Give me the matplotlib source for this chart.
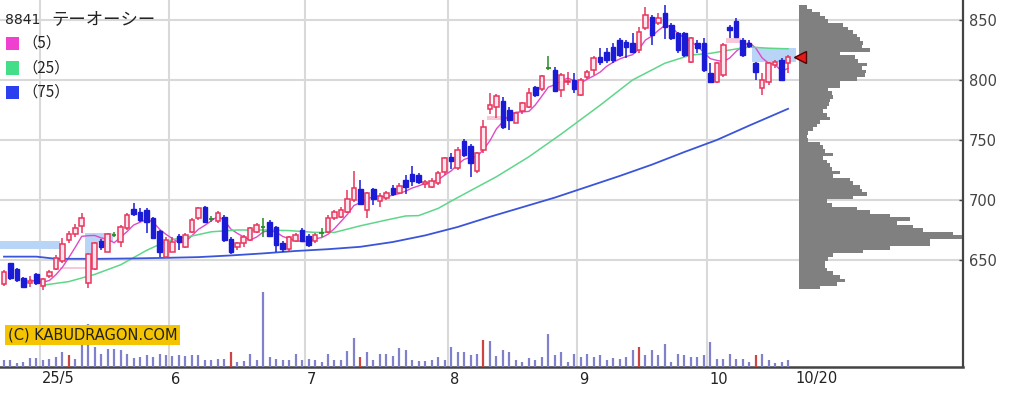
import numpy as np
import pandas as pd
import matplotlib
matplotlib.use("Agg")
import matplotlib.pyplot as plt
from matplotlib.patches import Rectangle
from matplotlib.transforms import blended_transform_factory

# 日足 (4/22 - 10/20)
opens = [629.7, 647.2, 642.5, 634.7, 630.6, 638.0, 628.6, 637.0, 642.5, 649.2,
         666.7, 671.4, 678.6, 630.6, 642.5, 665.8, 656.9, 670.8, 665.3, 676.4,
         692.5, 690.3, 691.7, 684.7, 674.2, 652.8, 656.9, 670.3, 661.1, 673.3,
         684.7, 693.9, 684.2, 682.8, 686.1, 667.2, 660.6, 663.9, 666.7, 673.6,
         677.8, 681.9, 677.2, 664.4, 658.9, 666.1, 675.0, 670.0, 666.1, 672.8,
         673.6, 684.7, 686.1, 690.3, 700.0, 708.9, 691.7, 708.9, 699.4, 701.4,
         710.0, 706.1, 717.0, 722.0, 720.5, 713.3, 711.0, 713.9, 723.0, 736.0,
         726.4, 749.0, 745.0, 724.0, 741.7, 775.6, 777.8, 782.5, 775.3, 764.4,
         774.5, 777.8, 794.0, 792.5, 809.7, 808.3, 791.7, 798.0, 800.0, 787.5,
         802.8, 808.0, 819.4, 823.6, 827.8, 833.3, 831.9, 831.1, 825.0, 843.1,
         852.8, 847.2, 855.6, 845.8, 838.9, 838.9, 815.3, 831.1, 830.6, 805.6,
         798.6, 804.2, 844.4, 849.4, 833.3, 831.1, 813.9, 793.1, 798.6, 812.5,
         816.7, 813.9]
highs = [641.7, 647.8, 643.6, 636.1, 636.7, 638.9, 635.3, 641.7, 654.2, 668.1,
         674.2, 679.7, 688.9, 655.6, 665.3, 667.2, 672.2, 673.0, 679.2, 688.9,
         697.2, 693.1, 693.1, 686.1, 675.0, 669.4, 669.4, 671.4, 672.2, 684.7,
         694.4, 695.0, 686.7, 691.1, 687.5, 668.9, 665.3, 670.8, 677.8, 680.6,
         684.7, 683.3, 678.3, 666.1, 670.0, 672.2, 676.4, 671.7, 672.2, 676.4,
         687.5, 691.7, 693.9, 708.3, 724.4, 716.7, 707.0, 709.7, 705.6, 707.8,
         712.5, 713.9, 721.0, 728.3, 722.5, 716.5, 718.0, 724.4, 736.1, 739.0,
         744.4, 750.6, 746.4, 740.3, 766.7, 788.9, 788.0, 785.5, 777.5, 772.8,
         782.0, 793.0, 795.0, 804.2, 820.0, 811.0, 805.6, 807.0, 805.6, 801.4,
         808.3, 820.0, 826.4, 826.4, 830.6, 834.7, 833.3, 838.9, 844.4, 861.1,
         854.2, 855.6, 862.5, 847.2, 840.3, 840.3, 836.1, 833.3, 834.7, 813.9,
         815.3, 830.6, 845.8, 851.4, 834.7, 833.3, 815.3, 805.6, 815.3, 816.7,
         818.1, 820.8]
lows = [628.6, 633.3, 631.4, 627.0, 627.8, 629.2, 625.0, 634.7, 641.7, 647.2,
        663.9, 669.4, 672.2, 626.4, 641.7, 658.3, 656.4, 669.4, 661.1, 675.0,
        686.9, 682.0, 672.2, 668.1, 652.8, 651.4, 656.4, 658.3, 659.7, 672.2,
        683.3, 680.6, 681.9, 681.1, 665.3, 655.0, 658.3, 661.1, 666.1, 672.2,
        669.4, 668.9, 657.0, 657.0, 657.8, 665.0, 665.0, 661.1, 664.4, 668.9,
        672.2, 683.3, 684.7, 689.4, 698.6, 695.8, 684.7, 695.8, 694.4, 700.0,
        703.6, 705.0, 705.0, 712.0, 713.5, 710.0, 710.0, 712.5, 720.8, 726.0,
        725.0, 736.1, 719.5, 722.2, 739.0, 772.0, 768.0, 759.0, 758.3, 763.9,
        772.0, 776.4, 786.1, 791.0, 808.5, 790.0, 786.1, 796.0, 789.4, 786.4,
        801.0, 804.0, 812.5, 813.9, 813.9, 819.4, 818.1, 822.2, 822.2, 841.7,
        829.2, 845.8, 833.9, 833.3, 822.2, 819.4, 813.9, 822.2, 806.9, 797.2,
        797.8, 802.8, 834.7, 834.7, 819.4, 826.4, 800.0, 787.5, 795.8, 809.7,
        799.4, 805.6]
closes = [640.3, 634.7, 633.3, 627.8, 632.5, 630.6, 633.9, 639.7, 651.9, 663.1,
          671.4, 676.9, 685.3, 654.7, 663.9, 661.1, 671.4, 670.8, 677.8, 687.5,
          688.1, 683.3, 681.9, 668.1, 656.9, 666.7, 665.3, 665.3, 670.8, 683.3,
          693.1, 681.9, 684.2, 689.4, 666.7, 656.9, 663.9, 669.4, 676.4, 679.2,
          677.8, 670.0, 662.5, 658.9, 668.9, 670.8, 666.1, 662.5, 670.8, 672.8,
          684.7, 690.3, 691.7, 700.6, 709.7, 696.7, 705.6, 700.6, 703.3, 706.1,
          705.0, 711.7, 711.1, 716.0, 715.0, 715.3, 716.0, 722.5, 734.7, 732.5,
          742.0, 737.5, 730.6, 738.9, 761.1, 779.2, 786.7, 760.5, 767.0, 772.2,
          780.6, 788.9, 787.5, 803.5, 809.7, 791.0, 804.2, 799.5, 792.5, 800.0,
          807.0, 818.0, 815.3, 816.7, 816.7, 820.8, 827.8, 823.6, 840.3, 854.2,
          837.5, 851.4, 844.4, 834.7, 825.0, 820.8, 834.7, 826.4, 808.3, 798.6,
          813.9, 829.2, 841.7, 836.1, 820.8, 828.3, 806.9, 800.0, 813.9, 815.3,
          800.0, 819.4]

# 出来高 (千株)
volume = [6.7, 6.7, 4.3, 5, 9.3, 9.3, 7.3, 8.3, 10, 15,
          11.7, 8.3, 22.3, 42.7, 20, 13.3, 18.3, 18.3, 16.7, 12.7,
          9.3, 10, 11.7, 10, 13.3, 12.3, 10.7, 11.7, 10.7, 11.7,
          11.7, 6.7, 7.3, 8.3, 8.3, 15, 5, 5.7, 12.7, 6.7,
          75, 10, 8.3, 6.7, 6.7, 13.3, 6.7, 8.3, 6.7, 5,
          13.3, 7.3, 7.3, 16, 29.3, 10, 15, 6.7, 13.3, 13.3,
          10.7, 19.3, 16.7, 6.7, 6, 6, 7.3, 10, 6.7, 20,
          15, 15, 11.7, 13.3, 27.3, 26, 10.7, 16.7, 15, 6.7,
          5, 9.3, 6.7, 10, 32.7, 11.7, 15, 5, 13.3, 10,
          13.3, 10, 11.7, 6.7, 9.3, 8.3, 10, 16.7, 20, 11.7,
          16.7, 11.7, 23.3, 5, 12.7, 11.7, 10, 10, 11.7, 25,
          8.3, 8.3, 13.3, 8.3, 8.3, 5, 11.7, 13.3, 6.7, 4,
          5, 6.7]
vol_red = [10, 35, 55, 74, 98, 116]

# 移動平均 (25日, 75日) 読み取り値
ma25_idx = [6, 10, 14, 18, 20, 22, 24, 26, 29, 32, 36, 40, 44, 48, 51, 55, 59,
            62, 64, 67, 70, 76, 81, 86, 92, 97, 102, 106, 109, 112, 115, 118, 121]
ma25 = [629, 632, 638, 646, 652, 658, 663, 667, 670, 673.5, 675, 675, 674.5,
        673, 673, 678.5, 683.3, 686.7, 687, 693, 702, 719.4, 736, 755, 779,
        800, 814, 820.8, 822.2, 825, 827.5, 826.5, 826]
ma75_idx = [0, 5, 8, 15, 20, 25, 30, 35, 40, 45, 50, 55, 60, 65, 70, 75, 80,
            85, 90, 95, 100, 105, 110, 115, 121]
ma75 = [652.8, 652.8, 651.0, 651.0, 651.3, 651.8, 652.4, 653.8, 655.5, 657.5,
        659.0, 661.0, 665.0, 670.5, 677.5, 686.0, 694.0, 702.0, 711.0, 720.0,
        729.5, 740.0, 750.0, 762.0, 776.0]

# 窓 (開始, 終了, 下限, 上限, 種類)
gaps = [(-0.6, 8.6, 659.0, 666.0, "down"),
        (12.5, 14.3, 655.6, 672.2, "down"),
        (14.3, 16.8, 665.3, 672.2, "down"),
        (8.6, 13.0, 642.5, 644.5, "up"),
        (74.5, 77.0, 766.7, 770.0, "up"),
        (111.5, 113.8, 830.6, 834.7, "up"),
        (115.5, 122.2, 815.3, 826.4, "down")]

# 価格帯別出来高
prof_price = np.arange(861, 626, -3)
prof_vol = [8, 13, 21, 26, 29, 44, 49, 54, 58, 61,
            64, 63, 71, 41, 56, 59, 68, 63, 67, 66,
            58, 41, 41, 29, 33, 34, 31, 30, 28, 24,
            28, 31, 21, 18, 14, 9, 8, 9, 21, 24,
            26, 34, 24, 28, 31, 33, 41, 34, 51, 54,
            61, 63, 68, 54, 28, 33, 58, 71, 91, 111,
            98, 114, 124, 154, 163, 131, 131, 91, 64, 34,
            29, 26, 26, 28, 34, 41, 46, 38, 21]

month_start = [6, 26, 47, 69, 89, 109]
month_labels = ["25/5", "6", "7", "8", "9", "10"]
last_label = "10/20"
price_ticks = [650, 700, 750, 800, 850]

W, H = 1032, 394
fig = plt.figure(figsize=(W / 100, H / 100), dpi=100)
ax = fig.add_axes([0, 27 / H, 963 / W, 367 / H])
ax.set_xlim(-0.617, 148.0)
ax.set_ylim(560.83, 866.67)

o = np.array(opens); h = np.array(highs); l = np.array(lows); c = np.array(closes)
x = np.arange(len(c))

# グリッド
for m in month_start:
    ax.axvline(m - 0.5, color="#d9d9d9", lw=1.5, zorder=0)
for p in price_ticks:
    ax.axhline(p, color="#d9d9d9", lw=1.5, zorder=0)

# 窓
for x0, x1, lo, hi, kind in gaps:
    ax.add_patch(Rectangle((x0, lo), x1 - x0, hi - lo,
                           facecolor="#b8d4f6" if kind == "down" else "#f6c8d8",
                           edgecolor="none", zorder=1))

# 出来高
axv = ax.twinx()
axv.set_ylim(0, 367)
vcol = ["#cc4444" if i in vol_red else "#8080cc" for i in x]
axv.vlines(x, 0, volume, colors=vcol, lw=1.6)
axv.set_yticks([])
for s in axv.spines.values():
    s.set_visible(False)

# 移動平均
ma5 = pd.Series(c).rolling(5).mean()
ax.plot(x, ma5, color="#e04ac6", lw=1, zorder=2)
ax.plot(ma25_idx, ma25, color="#5fd68a", lw=1.1, zorder=2)
ax.plot(ma75_idx, ma75, color="#3b55d9", lw=1.3, zorder=2)

# ローソク足
up = c > o
dn = c < o
dj = c == o
wick_col = np.where(up, "#e8345c", np.where(dn, "#1b1bd6", "#2a8a2a"))
ax.vlines(x, l, h, colors=wick_col, lw=1.1, zorder=3)
ax.bar(x[up], (c - o)[up], bottom=o[up], width=0.7, facecolor="#fde6ee",
       edgecolor="#e8345c", lw=1.1, zorder=4)
ax.bar(x[dn], (c - o)[dn], bottom=o[dn], width=0.7, facecolor="#1b1bd6",
       edgecolor="#1b1bd6", lw=1, zorder=4)
ax.hlines(c[dj], x[dj] - 0.35, x[dj] + 0.35, color="#2a8a2a", lw=1.3, zorder=4)

# 軸
ax.yaxis.tick_right()
ax.set_yticks(price_ticks)
ax.tick_params(axis="y", direction="in", length=3, width=1, pad=4,
               labelsize=10.5, colors="#444444")
ax.set_xticks([])
for side in ["top", "left"]:
    ax.spines[side].set_visible(False)
ax.spines["right"].set_color("#444444")
ax.spines["right"].set_linewidth(1.6)
ax.spines["bottom"].set_color("#444444")
ax.spines["bottom"].set_linewidth(1.8)

tr = blended_transform_factory(ax.transData, fig.transFigure)
for m, lab in zip(month_start, month_labels):
    fig.text(m - 0.2, 1 - 379 / H, lab, transform=tr, ha="left", va="center",
             fontsize=10.5, color="#222222")
fig.text(122.1, 1 - 379 / H, last_label, transform=tr, ha="left", va="center",
         fontsize=10.5, color="#222222")

# 価格帯別出来高
axp = fig.add_axes([799 / W, 27 / H, 164 / W, 367 / H], sharey=ax)
axp.barh(prof_price, prof_vol, height=3, color="#808080", align="center")
axp.set_xlim(0, 164)
axp.axis("off")
axp.plot([1], [c[-1]], marker="<", ms=8, mfc="#e41a1a", mec="#550000",
         mew=1, clip_on=False, zorder=10)

# 凡例
jp = ["Noto Sans CJK JP", "DejaVu Sans"]
fig.text(5 / W, 1 - 20 / H, "8841", fontsize=10, va="center", color="#222222")
fig.text(51 / W, 1 - 19 / H, "テーオーシー", fontsize=12.5, va="center",
         family=jp, color="#222222")
legend_items = [("（5）", "#f040d0"), ("（25）", "#44dd88"), ("（75）", "#2a40ee")]
for k, (lab, col) in enumerate(legend_items):
    yc = 43.5 + 24.5 * k
    fig.add_artist(Rectangle((6 / W, 1 - (yc + 6.5) / H), 13 / W, 13 / H,
                             transform=fig.transFigure, facecolor=col,
                             edgecolor="none"))
    fig.text(22 / W, 1 - yc / H, lab, fontsize=11, va="center",
             family=jp, color="#222222")

fig.text(8 / W, 1 - 335 / H, "(C) KABUDRAGON.COM", fontsize=10.5, va="center",
         color="#222222",
         bbox=dict(boxstyle="square,pad=0.2", fc="#f5c400", ec="none"))

fig.savefig("out.png", dpi=100)
